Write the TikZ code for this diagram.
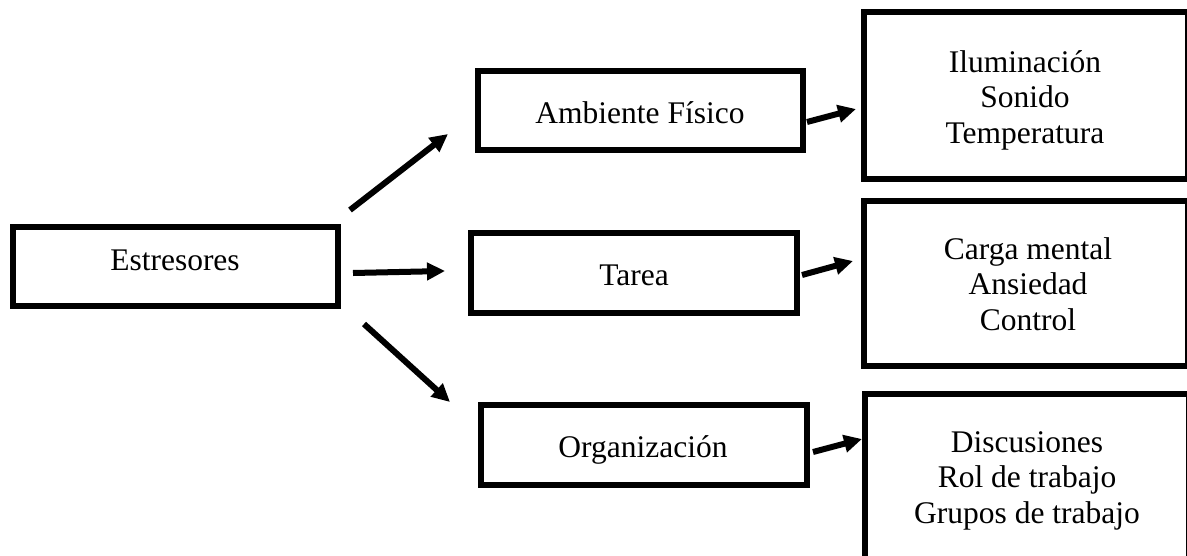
\documentclass[tikz,border=0pt]{standalone}
\usepackage{fontspec}
\setmainfont{Liberation Serif}
\usetikzlibrary{arrows.meta}
\begin{document}
\begin{tikzpicture}[x=1pt,y=-1pt,
  box/.style={draw=black,line width=6pt,line join=miter,inner sep=0pt,outer sep=0pt},
  label text/.style={inner sep=0pt,outer sep=0pt,font=\fontsize{31.5}{35.5}\selectfont,align=center,anchor=base},
  link/.style={line width=6pt,-{Triangle[length=18pt,width=17pt]}}]
\clip (0,0) rectangle (1187,555);
\fill[white] (0,0) rectangle (1187,555);

% left-hand boxes
\node[box,minimum width=325pt,minimum height=79pt] (estr) at (175.5,266.5) {};
\node[label text] (estr-t) at (175,270) {Estresores};

\node[box,minimum width=325pt,minimum height=79pt] (amb) at (640.5,110.5) {};
\node[label text] (amb-t) at (640,123) {Ambiente Físico};

\node[box,minimum width=326pt,minimum height=80pt] (tar) at (634,273) {};
\node[label text] (tar-t) at (634,285) {Tarea};

\node[box,minimum width=326pt,minimum height=80pt] (org) at (644,445) {};
\node[label text] (org-t) at (643,457) {Organización};

% right-hand lists (base anchor sits on the last line)
\node[box,minimum width=324pt,minimum height=167pt] (amb-list) at (1026,95.5) {};
\node[label text] (amb-list-t) at (1025,143) {Iluminación\\Sonido\\Temperatura};

\node[box,minimum width=324pt,minimum height=165pt] (tar-list) at (1026,283.5) {};
\node[label text] (tar-list-t) at (1028,330) {Carga mental\\Ansiedad\\Control};

\node[box,minimum width=324pt,minimum height=167pt] (org-list) at (1027,477) {};
\node[label text] (org-list-t) at (1027,523) {Discusiones\\Rol de trabajo\\Grupos de trabajo};

% arrow end points
\coordinate (e-a1) at (350,210);  \coordinate (e-a2) at (448,134);
\coordinate (e-t1) at (353,273);  \coordinate (e-t2) at (445,271);
\coordinate (e-o1) at (364,324);  \coordinate (e-o2) at (450,402);
\coordinate (a-l1) at (807,122);  \coordinate (a-l2) at (856,109);
\coordinate (t-l1) at (802,275);  \coordinate (t-l2) at (853,261);
\coordinate (o-l1) at (813,452);  \coordinate (o-l2) at (862,439);

\draw[link] (e-a1) -- (e-a2);
\draw[link] (e-t1) -- (e-t2);
\draw[link] (e-o1) -- (e-o2);
\draw[link] (a-l1) -- (a-l2);
\draw[link] (t-l1) -- (t-l2);
\draw[link] (o-l1) -- (o-l2);
\end{tikzpicture}
\end{document}
